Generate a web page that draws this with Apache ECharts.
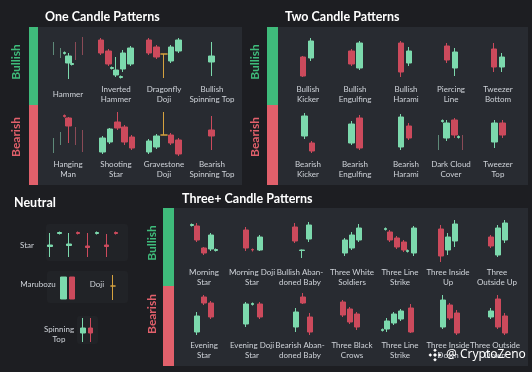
<!DOCTYPE html>
<html><head><meta charset="utf-8">
<script src="https://cdn.jsdelivr.net/npm/echarts@6/dist/echarts.min.js"></script>
<style>html,body{margin:0;padding:0;background:#1d1e22}#c{width:532px;height:372px}</style>
</head><body><div id="c"></div>
<script>
// Each candle: [time, open, close, low, high]
// ---- One candle patterns: bullish
const hammerTrend      = [[0,27,40,27,40],[1,24,34,24,34],[3,40,22,22,40],[4,45,27,27,45]];
const hammerCandle     = [[2,19,26,3,29]];
const hammerMarks      = [[1.5,28.5,29.5,27.5,30.5],[2.5,17.5,18.5,16.5,19.5]];
const invHammerCandles = [[0,42,29,27,44],[1,31,18,16,33],[2,7,12,5,25],[3,13,29,10,32],[4,18,34,16,36]];
const invHammerMarks   = [[1.5,13.5,14.5,12.5,15.5],[2.7,4.5,5.5,3.5,6.5]];
const dragonflyCandles = [[0,42,29,27,44],[1,35,25,23,37],[3,21,35,19,37],[4,31,42,29,44]];
const dragonflyDoji    = [[2,28,28,4,28]];
const bullSpinCandle   = [[0,20,26,6,40]];
// ---- One candle patterns: bearish
const hangingTrend      = [[0,5,20,5,20],[1,13,26,13,26],[3,31,13,13,31],[4,28,6,6,28]];
const hangingCandle     = [[2,40,32,15,41]];
const hangingMarks      = [[1.5,42.5,41.5,40.5,43.5]];
const shootingCandles   = [[0,6,20,4,22],[1,16,29,14,30],[2,36,30,28,46],[3,31,16,13,33],[4,21,10,8,23]];
const gravestoneCandles = [[0,6,17,4,19],[1,11,22,9,24],[3,23,15,13,25],[4,18,4,2,20]];
const gravestoneDoji    = [[2,23,23,23,46]];
const bearSpinCandle    = [[0,28,22,8,42]];
// ---- Two candle patterns
const bullKicker    = [[0,25,6,5,26],[1,24,41,21,44]];
const bullEngulf    = [[0,31,18,16,33],[1,14,39,12,41]];
const bullHarami    = [[0,39,10,5,41],[1,19,31,16,35]];
const piercing      = [[0,36,22,19,39],[1,14,30,6,34]];
const tweezerBottom = [[0,33,15,10,39],[1,15,25,10,29]];
const bearKicker    = [[0,22,42,19,45],[1,15,7,5,17]];
const bearEngulf    = [[0,15,34,13,37],[1,40,10,8,43]];
const bearHarami    = [[0,11,41,8,44],[1,32,20,18,35]];
const darkCloud      = [[0,20,35,17,38],[1,38,23,20,40]];
const darkCloudTrend = [[-1,8,23,8,23],[2,23,8,8,23]];
const darkCloudMarks = [[-0.5,36.5,37.5,35.5,38.5],[1.5,20.5,21.5,19.5,22.5]];
const tweezerTop    = [[0,16,35,10,38],[1,35,23,20,38]];
// ---- Three+ candle patterns
const morningStar       = [[0,40,26,24,43],[1,18,13,11,19],[2,17,31,15,33]];
const morningStarMarks  = [[-0.7,40.5,41.5,39.5,42.5],[2.7,15.5,16.5,14.5,17.5]];
const morningDoji       = [[0,36,18,15,39],[2,16,29,15,31]];
const morningDojiMarks  = [[1,16.5,16,14.5,17.5]];
const bullAbandoned     = [[0,39,25,23,43],[1,15.5,16,8,16.5],[2,27,41,24,44]];
const whiteSoldiers     = [[0,13,26,10,28],[1,18,31,16,34],[2,26,38,24,42]];
const lineStrikeBull    = [[0,34,26,24,36],[1,28,19,17,30],[2,24,16,14,26],[3.5,13,38,10,40]];
const lineStrikeBullMk  = [[-0.6,36.5,37.5,35.5,38.5],[2.6,14.5,15.5,13.5,16.5]];
const insideUp          = [[0,37,10,4,41],[1,16,29,11,33],[2,25,42,19,46]];
const outsideUp         = [[0,29,20,18,31],[1,11,38,9,41],[2,26,43,23,46]];
const eveningStar       = [[0,6,22,3,26],[1,41,35,33,43],[2,35,21,19,37]];
const eveningDoji       = [[0,14,34,11,36],[2,34,21,19,36]];
const eveningDojiMarks  = [[1,33.5,34.5,32.5,35.5]];
const bearAbandoned     = [[0,11,26,6,30],[1,41,35,34,45],[2,21,6,3,25]];
const blackCrows        = [[0,36,23,21,38],[1,29,16,14,31],[2,24,11,8,26]];
const lineStrikeBear    = [[0,9,17,6,20],[1,15,24,13,26],[2,19,27,17,29],[3.5,30,6,5,34]];
const lineStrikeBearMk  = [[-0.6,7.5,8.5,6.5,9.5]];
const insideDown        = [[0,11,38,9,43],[1,33,20,18,35],[2,25,5,3,28]];
const outsideDown       = [[0,21,27,19,30],[1,39,11,9,43],[2,22,5,3,25]];
// ---- Neutral
const starCandles = [[0,13.5,15,3,27],[2,14.5,16,3,27],[4,14,12.5,3,27],[6,15,13.5,3,26]];
const starMarks   = [[1,26.5,27.5,25.5,28.5],[3,27.5,26.5,25.5,28.5],[5,26.5,27.5,25.5,28.5],[7,27.5,26.5,25.5,28.5]];
const marubozu    = [[0,3,25,3,25],[1,25,3,3,25]];
const neutralDoji = [[0,16,16,2,27]];
const spinningTop = [[0,12,17,3,27],[1,17,12,3,27]];

// ---- Text
const oneBullLabels   = ['Hammer','Inverted\nHammer','Dragonfly\nDoji','Bullish\nSpinning Top'];
const oneBearLabels   = ['Hanging\nMan','Shooting\nStar','Gravestone\nDoji','Bearish\nSpinning Top'];
const twoBullLabels   = ['Bullish\nKicker','Bullish\nEngulfing','Bullish\nHarami','Piercing\nLine','Tweezer\nBottom'];
const twoBearLabels   = ['Bearish\nKicker','Bearish\nEngulfing','Bearish\nHarami','Dark Cloud\nCover','Tweezer\nTop'];
const threeBullLabels = ['Morning\nStar','Morning Doji\nStar','Bullish Aban-\ndoned Baby','Three White\nSoldiers','Three Line\nStrike','Three Inside\nUp','Three\nOutside Up'];
const threeBearLabels = ['Evening\nStar','Evening Doji\nStar','Bearish Aban-\ndoned Baby','Three Black\nCrows','Three Line\nStrike','Three Inside\nDown','Three Outside\nDown'];

// ---- Styles & layout
const GREEN='#7cd9ad', RED='#cc4a5c', DOJI='#d6a23f', TREND_G='#5e8a79', TREND_R='#8a4a56';
const LABEL='#cfd3d9', FONT='Lato';
const R1={top:35,h:47}, R2={top:108,h:50}, R5={top:218,h:48}, R6={top:292,h:46};
const RSTAR={top:228,h:32}, RMARU={top:272,h:30}, RSPIN={top:315,h:30};

const patterns = [
  {row:R1,x0:53.5,s:7.4,w:6,trend:hammerTrend,candles:hammerCandle,marks:hammerMarks},
  {row:R1,x0:101,s:7.4,w:6,candles:invHammerCandles,marks:invHammerMarks},
  {row:R1,x0:149,s:7.4,w:6,candles:dragonflyCandles,doji:dragonflyDoji},
  {row:R1,x0:211.5,s:7.4,w:6,candles:bullSpinCandle},
  {row:R2,x0:53.5,s:7.4,w:6,trend:hangingTrend,candles:hangingCandle,marks:hangingMarks},
  {row:R2,x0:102.5,s:7.4,w:6,candles:shootingCandles},
  {row:R2,x0:149,s:7.4,w:6,candles:gravestoneCandles,doji:gravestoneDoji},
  {row:R2,x0:211.5,s:7.4,w:6,candles:bearSpinCandle},
  {row:R1,x0:303,s:8,w:6,candles:bullKicker},
  {row:R1,x0:351.5,s:8,w:6,candles:bullEngulf},
  {row:R1,x0:401,s:7.8,w:6,candles:bullHarami},
  {row:R1,x0:447,s:7.8,w:6,candles:piercing},
  {row:R1,x0:494,s:8.2,w:6,candles:tweezerBottom},
  {row:R2,x0:304.5,s:7.5,w:6,candles:bearKicker},
  {row:R2,x0:351.5,s:8,w:6,candles:bearEngulf},
  {row:R2,x0:401,s:7.8,w:6,candles:bearHarami},
  {row:R2,x0:446.5,s:8,w:6,candles:darkCloud,trend:darkCloudTrend,marks:darkCloudMarks},
  {row:R2,x0:494.5,s:8,w:6,candles:tweezerTop},
  {row:R5,x0:197,s:7,w:5.5,candles:morningStar,marks:morningStarMarks},
  {row:R5,x0:245.5,s:7,w:5.5,candles:morningDoji,marks:morningDojiMarks},
  {row:R5,x0:294.5,s:7,w:5.5,candles:bullAbandoned},
  {row:R5,x0:344.5,s:7,w:5.5,candles:whiteSoldiers},
  {row:R5,x0:389.5,s:7,w:5.5,candles:lineStrikeBull,marks:lineStrikeBullMk},
  {row:R5,x0:441,s:7,w:5.5,candles:insideUp},
  {row:R5,x0:490.5,s:7,w:5.5,candles:outsideUp},
  {row:R6,x0:196.5,s:7,w:5.5,candles:eveningStar},
  {row:R6,x0:245.5,s:7,w:5.5,candles:eveningDoji,marks:eveningDojiMarks},
  {row:R6,x0:295.5,s:7,w:5.5,candles:bearAbandoned},
  {row:R6,x0:342.5,s:7,w:5.5,candles:blackCrows},
  {row:R6,x0:386.5,s:7,w:5.5,candles:lineStrikeBear,marks:lineStrikeBearMk},
  {row:R6,x0:443,s:7,w:5.5,candles:insideDown},
  {row:R6,x0:490.5,s:7,w:5.5,candles:outsideDown},
  {row:RSTAR,x0:50,s:9.4,w:5,candles:starCandles,marks:starMarks,mw:4},
  {row:RMARU,x0:63.5,s:8.5,w:6,candles:marubozu},
  {row:RMARU,x0:113,s:8,w:6,doji:neutralDoji,dw:6},
  {row:RSPIN,x0:83,s:7.5,w:5,candles:spinningTop}
];

const grids=[], xAxes=[], yAxes=[], series=[], graphics=[];
function cs(i,data,w,up,down){
  return {type:'candlestick',xAxisIndex:i,yAxisIndex:i,data:data,barWidth:w,silent:true,animation:false,
    itemStyle:{color:up,color0:down,borderColor:up,borderColor0:down,borderColorDoji:up,borderWidth:1}};
}
patterns.forEach(function(p){
  const sets=[p.trend,p.candles,p.marks,p.doji].filter(Boolean);
  let tmin=Infinity,tmax=-Infinity;
  sets.forEach(a=>a.forEach(d=>{tmin=Math.min(tmin,d[0]);tmax=Math.max(tmax,d[0]);}));
  const lo=Math.floor(tmin)-1, hi=Math.ceil(tmax)+1, i=grids.length;
  grids.push({left:p.x0+lo*p.s,width:(hi-lo)*p.s,top:p.row.top,height:p.row.h,show:false});
  xAxes.push({type:'value',gridIndex:i,min:lo,max:hi,show:false});
  yAxes.push({type:'value',gridIndex:i,min:0,max:p.row.h,show:false});
  if(p.trend) series.push(cs(i,p.trend,1,TREND_G,TREND_R));
  if(p.candles) series.push(cs(i,p.candles,p.w,GREEN,RED));
  if(p.marks) series.push(cs(i,p.marks,p.mw||3,GREEN,RED));
  if(p.doji) series.push(cs(i,p.doji,p.dw||7,DOJI,DOJI));
});

function rect(x,y,w,h,fill,r){graphics.push({type:'rect',z:-10,shape:{x:x,y:y,width:w,height:h,r:r||0},style:{fill:fill},silent:true});}
function text(x,y,t,font,fill,align,rot){
  graphics.push({type:'text',z:50,x:x,y:y,rotation:rot||0,silent:true,
    style:{text:t,font:font,fill:fill,align:align||'center',verticalAlign:'middle',textAlign:align||'center',textVerticalAlign:'middle',lineHeight:10}});
}
const PANEL='#282b31';
// panels
rect(38,27,204,158,PANEL); rect(29,27,9,78,'#3fbb7b'); rect(29,105,9,80,'#e1606b');
rect(278,27,250,158,PANEL); rect(267,27,11,78,'#3fbb7b'); rect(267,105,11,80,'#e1606b');
rect(174,208,354,158,PANEL); rect(163,208,11,78,'#3fbb7b'); rect(163,286,11,80,'#e1606b');
rect(46,224,82,37,'#212327',3); rect(47,271,81,32,'#212327',3); rect(77,316,21,28,'#212327',3);
// titles
const TFONT='bold 12.5px '+FONT;
text(45,17,'One Candle Patterns',TFONT,'#ffffff','left');
text(285,17,'Two Candle Patterns',TFONT,'#ffffff','left');
text(14,203,'Neutral',TFONT,'#ffffff','left');
text(182,199,'Three+ Candle Patterns',TFONT,'#ffffff','left');
// side labels
const SFONT='bold 12px '+FONT;
[[16,62],[255,62],[152,243]].forEach(p=>text(p[0],p[1],'Bullish',SFONT,'#3fbb7b','center',Math.PI/2));
[[16,137],[255,137],[152,314]].forEach(p=>text(p[0],p[1],'Bearish',SFONT,'#e1606b','center',Math.PI/2));
// pattern labels
const LFONT='8px '+FONT;
function labels(arr,xs,y){arr.forEach((t,k)=>text(xs[k],y,t,LFONT,LABEL));}
labels(oneBullLabels,[68,116,164,212],94);
labels(oneBearLabels,[68,116,164,212],169.5);
labels(twoBullLabels,[308,355,406,451,498],94);
labels(twoBearLabels,[308,355,406,451,498],169.5);
labels(threeBullLabels,[204,252,300,352,400,448,497],277);
labels(threeBearLabels,[204,252,300,352,400,448,495],350);
text(27,245,'Star',LFONT,LABEL); text(38,284,'Marubozu',LFONT,LABEL);
text(97,284,'Doji',LFONT,LABEL); text(59,334,'Spinning\nTop',LFONT,LABEL);
// watermark
function diamond(cx,cy,r){graphics.push({type:'polygon',z:60,silent:true,shape:{points:[[cx,cy-r],[cx+r,cy],[cx,cy+r],[cx-r,cy]]},style:{fill:'#ffffff'}});}
diamond(435,355,2); diamond(435,350.3,1.8); diamond(435,359.7,1.8); diamond(430.3,355,1.8); diamond(439.7,355,1.8);
graphics.push({type:'text',z:60,x:446,y:355,silent:true,style:{text:'@ CryptoZeno',font:'12px "Noto Sans"',fill:'#ffffff',align:'left',verticalAlign:'middle',textAlign:'left',textVerticalAlign:'middle'}});

const chart=echarts.init(document.getElementById('c'),null,{renderer:'canvas'});
chart.setOption({backgroundColor:'#1d1e22',animation:false,grid:grids,xAxis:xAxes,yAxis:yAxes,series:series,graphic:{elements:graphics}});
</script></body></html>
